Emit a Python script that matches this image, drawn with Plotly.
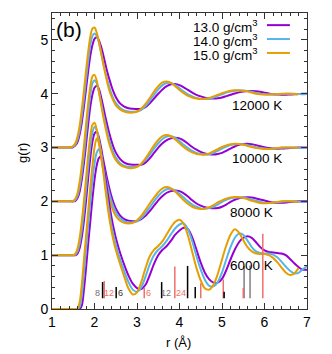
import plotly.graph_objects as go

# r grid (Å)
R = [1.0, 1.2, 1.4,
     1.45, 1.5, 1.55, 1.6, 1.65, 1.7, 1.75, 1.8, 1.85, 1.9, 1.95, 2.0, 2.05,
     2.1, 2.15, 2.2, 2.25, 2.3, 2.35, 2.4, 2.45, 2.5,
     2.6, 2.7, 2.8, 2.9, 3.0, 3.1, 3.2, 3.3, 3.4, 3.5, 3.6, 3.7, 3.8, 3.9,
     4.0, 4.1, 4.2, 4.3, 4.4, 4.5, 4.6, 4.7, 4.8, 4.9, 5.0, 5.1, 5.2, 5.3,
     5.4, 5.5, 5.6, 5.7, 5.8, 5.9, 6.0, 6.1, 6.2, 6.3, 6.4, 6.5, 6.6, 6.7,
     6.8, 6.9, 7.0]

DENSITIES = ["13.0", "14.0", "15.0"]
TEMPS = ["6000 K", "8000 K", "10000 K", "12000 K"]
OFFSETS = {"6000 K": 0, "8000 K": 1, "10000 K": 2, "12000 K": 3}
COLORS = {"13.0": "#9400D3", "14.0": "#56B4E9", "15.0": "#E69F00"}

# g(r) (without the vertical offset)
G = {
    ("6000 K", "13.0"): [0, 0, 0,
        0, 0, 0, 0, 0, 0.06, 0.35, 0.75, 1.2, 1.62, 2.04, 2.4, 2.66,
        2.8, 2.84, 2.72, 2.48, 2.2, 1.94, 1.7, 1.5, 1.33,
        1.05, 0.82, 0.62, 0.47, 0.39, 0.37, 0.45, 0.63, 0.84, 1.0, 1.1, 1.17, 1.27, 1.38,
        1.46, 1.51, 1.48, 1.33, 1.1, 0.86, 0.67, 0.55, 0.49, 0.49, 0.56, 0.72, 0.92, 1.1,
        1.24, 1.32, 1.35, 1.32, 1.24, 1.15, 1.09, 1.06, 1.05, 1.04, 1.03, 1.0, 0.93, 0.85,
        0.78, 0.73, 0.73],
    ("6000 K", "14.0"): [0, 0, 0,
        0, 0, 0, 0, 0.04, 0.25, 0.65, 1.1, 1.55, 1.98, 2.38, 2.7, 2.9,
        2.97, 2.88, 2.65, 2.35, 2.05, 1.78, 1.55, 1.36, 1.2,
        0.93, 0.7, 0.5, 0.36, 0.32, 0.4, 0.6, 0.83, 1.0, 1.1, 1.17, 1.27, 1.39, 1.5,
        1.57, 1.59, 1.48, 1.26, 0.98, 0.73, 0.54, 0.43, 0.42, 0.5, 0.68, 0.92, 1.15, 1.32,
        1.4, 1.38, 1.27, 1.15, 1.07, 1.04, 1.03, 1.03, 1.01, 0.96, 0.88, 0.79, 0.71, 0.66,
        0.67, 0.74, 0.8],
    ("6000 K", "15.0"): [0, 0, 0,
        0, 0, 0, 0.01, 0.12, 0.45, 0.9, 1.35, 1.8, 2.25, 2.65, 3.0, 3.17,
        3.1, 2.9, 2.6, 2.25, 1.95, 1.68, 1.45, 1.26, 1.1,
        0.84, 0.6, 0.38, 0.27, 0.31, 0.5, 0.76, 0.98, 1.1, 1.17, 1.26, 1.39, 1.52, 1.62,
        1.66, 1.58, 1.36, 1.06, 0.76, 0.53, 0.38, 0.36, 0.45, 0.65, 0.92, 1.18, 1.38, 1.48,
        1.42, 1.28, 1.15, 1.07, 1.03, 1.02, 1.02, 1.0, 0.95, 0.87, 0.77, 0.68, 0.63, 0.66,
        0.76, None, None],
    ("8000 K", "13.0"): [0, 0, 0,
        0, 0, 0, 0.03, 0.13, 0.33, 0.63, 1.0, 1.42, 1.8, 2.1, 2.26, 2.3,
        2.2, 2.02, 1.8, 1.6, 1.41, 1.24, 1.09, 0.97, 0.87,
        0.74, 0.67, 0.64, 0.63, 0.635, 0.67, 0.73, 0.82, 0.92, 1.02, 1.1, 1.16, 1.19, 1.2,
        1.19, 1.15, 1.09, 1.02, 0.96, 0.92, 0.89, 0.875, 0.87, 0.875, 0.9, 0.94, 0.99, 1.03,
        1.055, 1.07, 1.075, 1.07, 1.055, 1.035, 1.015, 0.995, 0.98, 0.975, 0.975, 0.98, 0.99, 0.995,
        1.0, 1.0, 1.0],
    ("8000 K", "14.0"): [0, 0, 0,
        0, 0, 0.01, 0.07, 0.22, 0.47, 0.82, 1.22, 1.65, 2.02, 2.28, 2.38, 2.33,
        2.16, 1.93, 1.7, 1.5, 1.31, 1.14, 1.0, 0.89, 0.8,
        0.69, 0.63, 0.61, 0.61, 0.63, 0.69, 0.78, 0.89, 1.0, 1.1, 1.18, 1.225, 1.23, 1.2,
        1.14, 1.07, 1.0, 0.94, 0.9, 0.87, 0.865, 0.875, 0.9, 0.94, 0.99, 1.03, 1.055, 1.07,
        1.075, 1.07, 1.055, 1.035, 1.01, 0.99, 0.975, 0.97, 0.975, 0.985, 0.995, 1.0, 1.0, 1.0,
        0.995, 0.99, 0.99],
    ("8000 K", "15.0"): [0, 0, 0,
        0, 0, 0.03, 0.12, 0.32, 0.62, 1.0, 1.42, 1.85, 2.2, 2.42, 2.46, 2.34,
        2.1, 1.84, 1.6, 1.4, 1.22, 1.04, 0.91, 0.81, 0.73,
        0.64, 0.6, 0.59, 0.6, 0.65, 0.73, 0.84, 0.96, 1.07, 1.17, 1.24, 1.265, 1.24, 1.18,
        1.1, 1.02, 0.95, 0.9, 0.87, 0.86, 0.865, 0.89, 0.93, 0.98, 1.02, 1.05, 1.07, 1.08,
        1.075, 1.06, 1.04, 1.01, 0.99, 0.97, 0.965, 0.97, 0.98, 0.99, 1.0, 1.0, 1.0, 0.995,
        0.99, None, None],
    ("10000 K", "13.0"): [0, 0, 0,
        0, 0, 0.01, 0.06, 0.18, 0.4, 0.7, 1.05, 1.42, 1.75, 1.98, 2.11, 2.15,
        2.1, 1.96, 1.78, 1.59, 1.42, 1.26, 1.12, 1.0, 0.91,
        0.79, 0.72, 0.69, 0.68, 0.68, 0.68, 0.72, 0.8, 0.9, 1.0, 1.08, 1.14, 1.17, 1.18,
        1.17, 1.13, 1.07, 1.01, 0.96, 0.92, 0.89, 0.875, 0.87, 0.88, 0.9, 0.94, 0.98, 1.02,
        1.05, 1.065, 1.07, 1.06, 1.045, 1.025, 1.005, 0.99, 0.98, 0.978, 0.98, 0.985, 0.99, 0.995,
        1.0, 1.0, 1.0],
    ("10000 K", "14.0"): [0, 0, 0,
        0, 0, 0.03, 0.1, 0.27, 0.53, 0.86, 1.25, 1.64, 1.97, 2.19, 2.25, 2.2,
        2.05, 1.86, 1.65, 1.46, 1.29, 1.13, 1.0, 0.9, 0.82,
        0.71, 0.66, 0.64, 0.64, 0.65, 0.69, 0.77, 0.87, 0.98, 1.08, 1.16, 1.205, 1.21, 1.18,
        1.12, 1.05, 0.99, 0.94, 0.9, 0.88, 0.87, 0.875, 0.9, 0.94, 0.98, 1.02, 1.045, 1.06,
        1.065, 1.06, 1.045, 1.025, 1.005, 0.99, 0.98, 0.975, 0.978, 0.985, 0.995, 1.0, 1.0, 1.0,
        0.995, 0.99, 0.99],
    ("10000 K", "15.0"): [0, 0, 0,
        0, 0.01, 0.05, 0.15, 0.36, 0.66, 1.02, 1.42, 1.81, 2.13, 2.32, 2.35, 2.25,
        2.05, 1.82, 1.6, 1.4, 1.22, 1.06, 0.94, 0.84, 0.77,
        0.68, 0.64, 0.62, 0.62, 0.64, 0.7, 0.8, 0.92, 1.04, 1.14, 1.21, 1.235, 1.21, 1.15,
        1.08, 1.01, 0.95, 0.91, 0.88, 0.87, 0.87, 0.89, 0.93, 0.97, 1.01, 1.04, 1.06, 1.07,
        1.065, 1.05, 1.03, 1.01, 0.99, 0.98, 0.975, 0.975, 0.98, 0.99, 1.0, 1.0, 1.0, 0.995,
        0.99, None, None],
    ("12000 K", "13.0"): [0, 0, 0,
        0, 0.01, 0.04, 0.1, 0.24, 0.46, 0.75, 1.08, 1.41, 1.7, 1.9, 2.02, 2.05,
        2.0, 1.89, 1.74, 1.57, 1.41, 1.27, 1.14, 1.03, 0.94,
        0.82, 0.76, 0.73, 0.72, 0.715, 0.72, 0.75, 0.82, 0.91, 1.0, 1.08, 1.14, 1.175, 1.18,
        1.16, 1.12, 1.07, 1.02, 0.98, 0.95, 0.925, 0.91, 0.91, 0.915, 0.93, 0.955, 0.98, 1.005,
        1.025, 1.04, 1.05, 1.05, 1.045, 1.035, 1.02, 1.005, 0.99, 0.985, 0.98, 0.98, 0.985, 0.99,
        0.995, 1.0, 1.0],
    ("12000 K", "14.0"): [0, 0, 0,
        0, 0.02, 0.06, 0.15, 0.32, 0.58, 0.9, 1.26, 1.6, 1.9, 2.07, 2.12, 2.08,
        1.96, 1.79, 1.6, 1.42, 1.26, 1.12, 1.0, 0.9, 0.83,
        0.74, 0.69, 0.67, 0.665, 0.67, 0.7, 0.77, 0.87, 0.98, 1.08, 1.16, 1.2, 1.2, 1.16,
        1.1, 1.04, 0.99, 0.95, 0.92, 0.905, 0.9, 0.91, 0.93, 0.96, 0.99, 1.02, 1.04, 1.055,
        1.06, 1.06, 1.05, 1.035, 1.015, 1.0, 0.99, 0.985, 0.985, 0.99, 0.995, 1.0, 1.0, 1.0,
        0.995, 0.99, 0.995],
    ("12000 K", "15.0"): [0, 0, 0,
        0.01, 0.03, 0.08, 0.2, 0.4, 0.7, 1.05, 1.42, 1.77, 2.05, 2.21, 2.23, 2.14,
        1.98, 1.78, 1.58, 1.39, 1.21, 1.06, 0.95, 0.86, 0.79,
        0.71, 0.67, 0.65, 0.65, 0.67, 0.72, 0.81, 0.92, 1.04, 1.14, 1.21, 1.225, 1.2, 1.14,
        1.07, 1.01, 0.96, 0.93, 0.91, 0.9, 0.905, 0.92, 0.95, 0.98, 1.01, 1.035, 1.055, 1.065,
        1.065, 1.055, 1.04, 1.02, 1.0, 0.99, 0.985, 0.985, 0.99, 0.995, 1.0, 1.0, 1.0, 0.995,
        0.99, None, None],
}

# neighbour-shell sticks at the bottom
STICK_BASE = 0.2
STICK_R_GRAY = [5.52, 5.66]
STICK_TOP_GRAY = [0.80, 0.81]
STICK_R_RED = [2.23, 3.17, 3.89, 4.50, 5.03, 5.50, 5.96]
STICK_TOP_RED = [0.52, 0.39, 0.79, 0.48, 0.55, 0.39, 1.40]
STICK_R_BLACK = [2.19, 2.51, 3.58, 4.19, 4.37, 5.05]
STICK_TOP_BLACK = [0.50, 0.41, 0.50, 0.80, 0.41, 0.32]

STICK_LABELS = ["8", "12", "6", "6", "12", "24"]
STICK_LABEL_R = [2.07, 2.35, 2.60, 3.26, 3.69, 4.04]
STICK_LABEL_COLORS = ["#707070", "#F07068", "#333333", "#F07068", "#707070", "#F07068"]

TEMP_LABEL_R = [5.70, 5.70, 5.82, 5.82]
TEMP_LABEL_G = [0.80, 1.80, 2.80, 3.78]

FONT = "Liberation Sans, Arial, sans-serif"

fig = go.Figure()

for temp in reversed(TEMPS):
    off = OFFSETS[temp]
    for d in DENSITIES:
        ys = [None if v is None else v + off for v in G[(temp, d)]]
        fig.add_trace(go.Scatter(
            x=R, y=ys, mode="lines",
            line=dict(color=COLORS[d], width=2, shape="spline", smoothing=0.8),
            showlegend=False, hoverinfo="skip",
        ))


def stick_trace(rs, tops, color):
    xs, ys = [], []
    for r, t in zip(rs, tops):
        xs += [r, r, None]
        ys += [STICK_BASE, t, None]
    return go.Scatter(x=xs, y=ys, mode="lines", line=dict(color=color, width=1.5),
                      showlegend=False, hoverinfo="skip")


fig.add_trace(stick_trace(STICK_R_GRAY, STICK_TOP_GRAY, "#808080"))
fig.add_trace(stick_trace(STICK_R_RED, STICK_TOP_RED, "#F07068"))
fig.add_trace(stick_trace(STICK_R_BLACK, STICK_TOP_BLACK, "#000000"))

for lab, r, c in zip(STICK_LABELS, STICK_LABEL_R, STICK_LABEL_COLORS):
    fig.add_annotation(x=r, y=0.3, text=lab, showarrow=False,
                       font=dict(size=9, color=c, family=FONT))

for temp, r, g in zip(TEMPS, TEMP_LABEL_R, TEMP_LABEL_G):
    fig.add_annotation(x=r, y=g, text=temp, showarrow=False,
                       font=dict(size=13.5, color="black", family=FONT))

# legend drawn gnuplot style: text on the left, sample on the right
for i, d in enumerate(DENSITIES):
    yl = 0.959 - i * 0.047
    fig.add_annotation(xref="paper", yref="paper", x=0.815, y=yl - 0.004,
                       xanchor="right", yanchor="middle", showarrow=False,
                       text=f"{d} g/cm<sup>3</sup>",
                       font=dict(size=13.5, color="black", family=FONT))
    fig.add_shape(type="line", xref="paper", yref="paper",
                  x0=0.843, x1=0.933, y0=yl, y1=yl,
                  line=dict(color=COLORS[d], width=2))

fig.add_annotation(xref="paper", yref="paper", x=0.008, y=0.945,
                   xanchor="left", yanchor="middle", showarrow=False,
                   text="(b)", font=dict(size=21, color="black", family=FONT))

fig.add_annotation(xref="paper", yref="paper", x=-0.118, y=0.527,
                   xanchor="center", yanchor="middle",
                   textangle=-90, showarrow=False, text="g(r)",
                   font=dict(size=13, color="black", family=FONT))
fig.add_annotation(xref="paper", yref="paper", x=0.497, y=-0.113,
                   xanchor="center", yanchor="middle",
                   showarrow=False, text="r (Å)",
                   font=dict(size=13, color="black", family=FONT))

axis_common = dict(
    showline=True, linecolor="#333333", linewidth=1, mirror="ticks",
    ticks="inside", ticklen=6, tickcolor="#333333", showgrid=False,
    zeroline=False, tickfont=dict(size=14, color="black", family=FONT),
)

fig.update_xaxes(range=[1, 7], dtick=1, tick0=1,
                 minor=dict(ticks="inside", ticklen=3, dtick=0.2, tickcolor="#333333"),
                 **axis_common)
fig.update_yaxes(range=[0, 5.5], dtick=1, tick0=0,
                 minor=dict(ticks="inside", ticklen=3, dtick=0.2, tickcolor="#333333"),
                 **axis_common)

fig.update_layout(
    width=332, height=354,
    margin=dict(l=52, r=25, t=13, b=45),
    plot_bgcolor="white", paper_bgcolor="white",
    font=dict(family=FONT),
)

# drop the browser's default 8px body margin so the figure sits at the page corner
fig.write_html("out.html", config={"displayModeBar": False},
               post_script="document.body.style.margin='0';")
